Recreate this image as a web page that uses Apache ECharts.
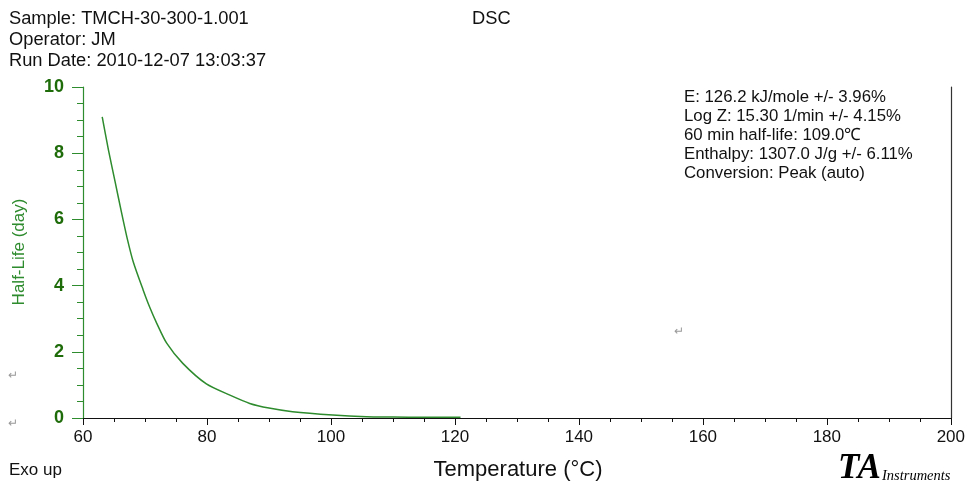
<!DOCTYPE html>
<html>
<head>
<meta charset="utf-8">
<script src="https://cdn.jsdelivr.net/npm/echarts@6/dist/echarts.min.js"></script>
<style>html,body{margin:0;padding:0;background:#fff;}#c{width:968px;height:484px;}</style>
</head>
<body>
<div id="c"></div>
<script>
// Data
var temperature = [63.1, 64.1, 65.2, 66.2, 67.1, 68.1, 69.7, 70.8, 71.9, 73.5, 76.1, 79.9, 83.7, 86.9, 90.0, 93.8, 100.3, 105.7, 110.0, 115.0, 120.9];
var halfLife    = [9.10, 8.10, 7.12, 6.22, 5.45, 4.72, 3.87, 3.33, 2.86, 2.26, 1.65, 1.03, 0.69, 0.44, 0.30, 0.19, 0.09, 0.04, 0.03, 0.02, 0.02];
var xTicks = [60, 80, 100, 120, 140, 160, 180, 200];
var yTicks = [0, 2, 4, 6, 8, 10];
var headerLines = ['Sample: TMCH-30-300-1.001', 'Operator: JM', 'Run Date: 2010-12-07 13:03:37'];
var infoLines = ['E: 126.2 kJ/mole +/- 3.96%', 'Log Z: 15.30 1/min +/- 4.15%', '60 min half-life: 109.0\u2103', 'Enthalpy: 1307.0 J/g +/- 6.11%', 'Conversion: Peak (auto)'];

var points = temperature.map(function (t, i) { return [t, halfLife[i]]; });
var green = '#2e8b2e';
var font = '"Liberation Sans", Arial, sans-serif';

var graphics = [];
headerLines.forEach(function (s, i) {
  graphics.push({type: 'text', x: 9, y: 19 + i * 21, style: {text: s, font: '18.3px ' + font, fill: '#111', textVerticalAlign: 'middle'}});
});
graphics.push({type: 'text', x: 472, y: 19, style: {text: 'DSC', font: '18.3px ' + font, fill: '#111', textVerticalAlign: 'middle'}});
infoLines.forEach(function (s, i) {
  graphics.push({type: 'text', x: 684, y: 97 + i * 19, style: {text: s, font: '16.8px ' + font, fill: '#111', textVerticalAlign: 'middle'}});
});
graphics.push({type: 'text', x: 9, y: 470, style: {text: 'Exo up', font: '17px ' + font, fill: '#111', textVerticalAlign: 'middle'}});
graphics.push({type: 'text', x: 13, y: 376, style: {text: '\u21B5', font: '12px ' + font, fill: '#999', textAlign: 'center', textVerticalAlign: 'middle'}});
graphics.push({type: 'text', x: 13, y: 424, style: {text: '\u21B5', font: '12px ' + font, fill: '#999', textAlign: 'center', textVerticalAlign: 'middle'}});
graphics.push({type: 'text', x: 679, y: 332, style: {text: '\u21B5', font: '12px ' + font, fill: '#999', textAlign: 'center', textVerticalAlign: 'middle'}});
graphics.push({type: 'text', x: 518, y: 470, style: {text: 'Temperature (\u00B0C)', font: '22px ' + font, fill: '#111', textAlign: 'center', textVerticalAlign: 'middle'}});
graphics.push({type: 'text', x: 19, y: 252, rotation: Math.PI / 2, style: {text: 'Half-Life (day)', font: '17px ' + font, fill: green, textAlign: 'center', textVerticalAlign: 'middle'}});
graphics.push({type: 'text', x: 838, y: 469, style: {text: 'TA', font: 'italic bold 35px "Liberation Serif", "DejaVu Serif", serif', fill: '#000', textVerticalAlign: 'middle'}});
graphics.push({type: 'text', x: 882, y: 476, style: {text: 'Instruments', font: 'italic 14.5px "Liberation Serif", "DejaVu Serif", serif', fill: '#000', textVerticalAlign: 'middle'}});

var chart = echarts.init(document.getElementById('c'));
chart.setOption({
  animation: false,
  backgroundColor: '#fff',
  grid: {left: 83, right: 16, top: 87, bottom: 66, containLabel: false},
  xAxis: [{
    type: 'value', min: xTicks[0], max: xTicks[xTicks.length - 1], interval: 20,
    axisLine: {show: true, onZero: false, lineStyle: {color: '#111', width: 1.2}},
    axisTick: {show: true, inside: false, length: 7, lineStyle: {color: '#111'}},
    minorTick: {show: true, splitNumber: 4, length: 4, lineStyle: {color: '#111'}},
    axisLabel: {fontSize: 17, color: '#111', margin: 11, fontFamily: font},
    splitLine: {show: false}
  }, {
    type: 'value', position: 'top', min: 60, max: 200,
    axisLine: {show: true, lineStyle: {color: '#111', width: 1.2}},
    axisTick: {show: false}, axisLabel: {show: false}, splitLine: {show: false}
  }],
  yAxis: [{
    type: 'value', min: yTicks[0], max: yTicks[yTicks.length - 1], interval: 2,
    axisLine: {show: true, onZero: false, lineStyle: {color: green, width: 1.2}},
    axisTick: {show: true, inside: false, length: 11, lineStyle: {color: green}},
    minorTick: {show: true, splitNumber: 4, length: 6, lineStyle: {color: green}},
    axisLabel: {fontSize: 18, color: '#1e6b0a', margin: 19, fontFamily: font, fontWeight: 'bold'},
    splitLine: {show: false}
  }, {
    type: 'value', position: 'right', min: 0, max: 10,
    axisLine: {show: true, lineStyle: {color: '#333', width: 1.2}},
    axisTick: {show: false}, axisLabel: {show: false}, splitLine: {show: false}
  }],
  graphic: graphics,
  series: [{
    type: 'line', xAxisIndex: 0, yAxisIndex: 0,
    data: points, showSymbol: false, smooth: 0.25,
    lineStyle: {color: green, width: 1.5}
  }]
});
</script>
</body>
</html>
